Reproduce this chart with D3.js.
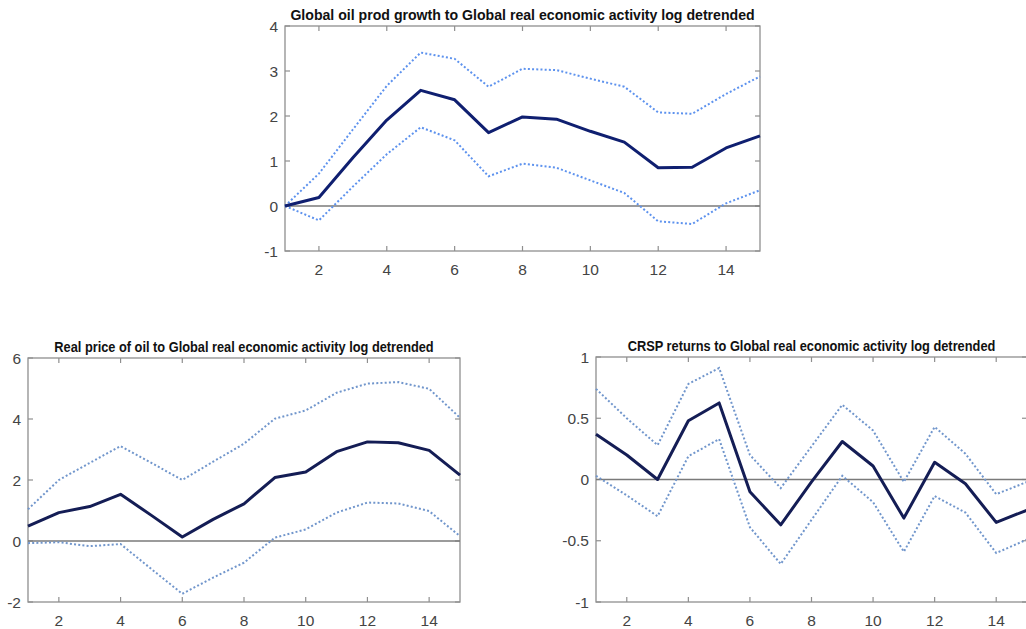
<!DOCTYPE html>
<html>
<head>
<meta charset="utf-8">
<script src="https://cdn.jsdelivr.net/npm/d3@7"></script>
<style>
  html, body { margin: 0; padding: 0; background: #fff; }
  svg { display: block; }
</style>
</head>
<body>
<svg id="chart" width="1026" height="629"></svg>
<script>
// Impulse horizons (periods)
const horizons = [1, 2, 3, 4, 5, 6, 7, 8, 9, 10, 11, 12, 13, 14, 15];
const xTicks = [2, 4, 6, 8, 10, 12, 14];

// Panel 1: Global oil production growth response
const prodTitle = "Global oil prod growth to Global real economic activity log detrended";
const prodIrf   = [0, 0.19, 1.07, 1.91, 2.57, 2.36, 1.63, 1.98, 1.93, 1.66, 1.42, 0.85, 0.86, 1.29, 1.56];
const prodUpper = [0, 0.72, 1.70, 2.67, 3.41, 3.27, 2.65, 3.05, 3.02, 2.83, 2.65, 2.08, 2.05, 2.49, 2.88];
const prodLower = [0, -0.32, 0.43, 1.15, 1.75, 1.46, 0.66, 0.94, 0.85, 0.57, 0.29, -0.34, -0.40, 0.06, 0.35];
const prodYTicks = [-1, 0, 1, 2, 3, 4];

// Panel 2: Real price of oil response
const priceTitle = "Real price of oil to Global real economic activity log detrended";
const priceIrf   = [0.49, 0.93, 1.13, 1.53, 0.84, 0.13, 0.71, 1.22, 2.08, 2.26, 2.93, 3.25, 3.22, 2.97, 2.16];
const priceUpper = [1.04, 2.00, 2.56, 3.11, 2.56, 2.00, 2.60, 3.19, 4.01, 4.28, 4.86, 5.16, 5.21, 4.99, 4.04];
const priceLower = [-0.07, -0.04, -0.17, -0.10, -0.92, -1.73, -1.20, -0.71, 0.11, 0.38, 0.93, 1.26, 1.23, 0.98, 0.16];
const priceYTicks = [-2, 0, 2, 4, 6];

// Panel 3: CRSP returns response
const crspTitle = "CRSP returns to Global real economic activity log detrended";
const crspIrf   = [0.37, 0.20, 0.00, 0.48, 0.625, -0.10, -0.37, -0.02, 0.31, 0.11, -0.315, 0.14, -0.035, -0.35, -0.25];
const crspUpper = [0.74, 0.50, 0.28, 0.78, 0.91, 0.20, -0.07, 0.27, 0.61, 0.40, -0.02, 0.43, 0.21, -0.12, -0.02];
const crspLower = [0.03, -0.13, -0.30, 0.19, 0.33, -0.39, -0.69, -0.33, 0.03, -0.185, -0.59, -0.135, -0.27, -0.60, -0.49];
const crspYTicks = [-1, -0.5, 0, 0.5, 1];

const svg = d3.select("#chart");
const FONT = "'Liberation Sans', Arial, Helvetica, sans-serif";
const TICK_FONT = "'Liberation Sans Narrow', 'Arial Narrow', 'Liberation Sans', sans-serif";

function drawPanel(p) {
  const g = svg.append("g");
  const x = d3.scaleLinear().domain([1, 15]).range([p.left, p.right]);
  const y = d3.scaleLinear().domain(p.yDomain).range([p.bottom, p.top]);

  // frame
  g.append("rect")
    .attr("x", p.left).attr("y", p.top)
    .attr("width", p.right - p.left).attr("height", p.bottom - p.top)
    .attr("fill", "#fff")
    .attr("stroke", "#8f8f8f").attr("stroke-width", 1.3);

  // inward ticks on all four sides
  const tickLen = 5;
  const tickStyle = sel => sel.attr("stroke", "#8f8f8f").attr("stroke-width", 1.2);
  xTicks.forEach(t => {
    g.append("line").attr("x1", x(t)).attr("x2", x(t)).attr("y1", p.bottom).attr("y2", p.bottom - tickLen).call(tickStyle);
    g.append("line").attr("x1", x(t)).attr("x2", x(t)).attr("y1", p.top).attr("y2", p.top + tickLen).call(tickStyle);
  });
  p.yTicks.forEach(t => {
    g.append("line").attr("x1", p.left).attr("x2", p.left + tickLen).attr("y1", y(t)).attr("y2", y(t)).call(tickStyle);
    g.append("line").attr("x1", p.right).attr("x2", p.right - tickLen).attr("y1", y(t)).attr("y2", y(t)).call(tickStyle);
  });

  // tick labels
  g.selectAll(null).data(xTicks).enter().append("text")
    .attr("x", d => x(d)).attr("y", p.bottom + 24)
    .attr("text-anchor", "middle")
    .attr("font-family", TICK_FONT).attr("font-size", 15.5)
    .attr("fill", "#444")
    .text(d => d);
  g.selectAll(null).data(p.yTicks).enter().append("text")
    .attr("x", p.left - 7).attr("y", d => y(d) + 5.5)
    .attr("text-anchor", "end")
    .attr("font-family", TICK_FONT).attr("font-size", 15.5)
    .attr("fill", "#444")
    .text(d => d);

  // zero reference line
  g.append("line")
    .attr("x1", p.left).attr("x2", p.right)
    .attr("y1", y(0)).attr("y2", y(0))
    .attr("stroke", "#7a7a7a").attr("stroke-width", 1.3);

  const line = d3.line().x((d, i) => x(horizons[i])).y(d => y(d));

  // confidence bands
  [p.upper, p.lower].forEach(band => {
    g.append("path").datum(band)
      .attr("d", line)
      .attr("fill", "none")
      .attr("stroke", p.bandColor).attr("stroke-width", 2)
      .attr("stroke-dasharray", "2,2.2");
  });

  // point estimate
  g.append("path").datum(p.irf)
    .attr("d", line)
    .attr("fill", "none")
    .attr("stroke", p.lineColor).attr("stroke-width", 3)
    .attr("stroke-linejoin", "round");

  // title: condensed bold face, sized to the target width and stretched vertically
  const baseSize = 14.5;
  const title = g.append("text")
    .attr("text-anchor", "middle")
    .attr("font-family", FONT).attr("font-weight", "bold").attr("font-size", baseSize)
    .attr("fill", "#111")
    .text(p.title);
  const natural = title.node().getComputedTextLength();
  const fs = baseSize * p.titleWidth / natural;
  title.attr("font-size", fs)
    .attr("transform", `translate(${(p.left + p.right) / 2},${p.top - 6}) scale(1,${baseSize / fs})`);
}

drawPanel({
  title: prodTitle, titleWidth: 465,
  left: 285, right: 760, top: 26, bottom: 251,
  yDomain: [-1, 4], yTicks: prodYTicks,
  irf: prodIrf, upper: prodUpper, lower: prodLower,
  lineColor: "#0f1f70", bandColor: "#5d92ee"
});

drawPanel({
  title: priceTitle, titleWidth: 380,
  left: 28, right: 460, top: 358, bottom: 602,
  yDomain: [-2, 6], yTicks: priceYTicks,
  irf: priceIrf, upper: priceUpper, lower: priceLower,
  lineColor: "#141d55", bandColor: "#7196cc"
});

drawPanel({
  title: crspTitle, titleWidth: 368,
  left: 596, right: 1027, top: 357, bottom: 602,
  yDomain: [-1, 1], yTicks: crspYTicks,
  irf: crspIrf, upper: crspUpper, lower: crspLower,
  lineColor: "#141d55", bandColor: "#7196cc"
});
</script>
</body>
</html>
